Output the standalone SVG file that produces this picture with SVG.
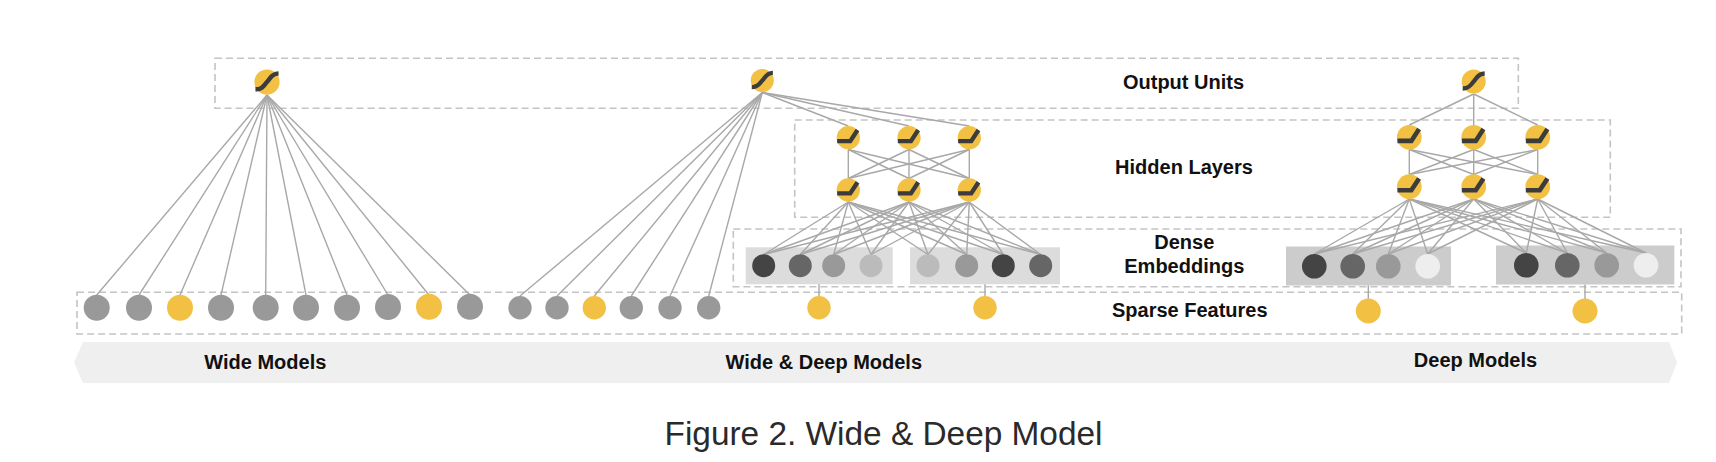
<svg xmlns="http://www.w3.org/2000/svg" xmlns:xlink="http://www.w3.org/1999/xlink" width="1716" height="462" viewBox="0 0 1716 462">
<style>
.box{fill:none;stroke:#c4c4c4;stroke-width:1.6;stroke-dasharray:7 4}
.cn line{stroke:#a8a8a8;stroke-width:1.4}
.lbl{font-family:"Liberation Sans",Arial,sans-serif;font-weight:bold;font-size:20px;fill:#111;text-anchor:middle}
.cap{font-family:"Liberation Sans",Arial,sans-serif;font-size:33.4px;fill:#2a2a2a;text-anchor:middle}
.y{fill:#f2c043}
.g{fill:#999}
.e1{fill:#444}.e2{fill:#666}.e3{fill:#999}.e4{fill:#bbb}.e5{fill:#eee}
</style>
<defs>
<g id="sig"><circle r="12" fill="#f2c043"/><path d="M-11,7 C-4,7 -3,3 0,0 C3,-3 4,-8 11,-8" fill="none" stroke="#3c3c3c" stroke-width="4.3"/></g>
<g id="relu"><circle r="12" fill="#f2c043"/><path d="M-11.5,3.5 H2 L9.5,-8" fill="none" stroke="#3c3c3c" stroke-width="4.5"/></g>
</defs>
<rect width="1716" height="462" fill="#fff"/>
<g id="band">
<polygon points="74,362.5 83,342 1669,342 1677,362.5 1669,383 83,383" fill="#efefef"/>
</g>
<g id="layers">
<rect id="box-output" class="box" x="215" y="58.3" width="1303.3" height="50"/>
<rect id="box-hidden" class="box" x="794.7" y="120" width="815.6" height="97.3"/>
<rect id="box-dense" class="box" x="733.3" y="229" width="947.7" height="57.7"/>
<rect id="box-sparse" class="box" x="77" y="292.3" width="1604.7" height="41.7"/>
</g>
<g id="emb-rects">
<rect x="745.7" y="247.3" width="147" height="37" fill="#dcdcdc"/>
<rect x="910" y="247.3" width="150" height="37" fill="#dcdcdc"/>
<rect x="1286" y="246.5" width="165" height="39" fill="#cccccc"/>
<rect x="1496" y="245.5" width="178.3" height="39" fill="#cccccc"/>
</g>
<g id="connectors" class="cn">
<line x1="267" y1="95" x2="96.7" y2="295"/>
<line x1="267" y1="95" x2="139" y2="295"/>
<line x1="267" y1="95" x2="180" y2="295"/>
<line x1="267" y1="95" x2="221" y2="295"/>
<line x1="267" y1="95" x2="265.7" y2="295"/>
<line x1="267" y1="95" x2="306" y2="295"/>
<line x1="267" y1="95" x2="347" y2="295"/>
<line x1="267" y1="95" x2="388" y2="295"/>
<line x1="267" y1="95" x2="429" y2="295"/>
<line x1="267" y1="95" x2="470" y2="295"/>
<line x1="762.3" y1="92.5" x2="520" y2="296"/>
<line x1="762.3" y1="92.5" x2="557" y2="296"/>
<line x1="762.3" y1="92.5" x2="594.3" y2="296"/>
<line x1="762.3" y1="92.5" x2="631.3" y2="296"/>
<line x1="762.3" y1="92.5" x2="670" y2="296"/>
<line x1="762.3" y1="92.5" x2="708.7" y2="296"/>
<line x1="762.3" y1="92.5" x2="848.3" y2="126"/>
<line x1="762.3" y1="92.5" x2="909" y2="126"/>
<line x1="762.3" y1="92.5" x2="969.3" y2="126"/>
<line x1="848.3" y1="149.5" x2="848.3" y2="178.5"/>
<line x1="848.3" y1="149.5" x2="909" y2="178.5"/>
<line x1="848.3" y1="149.5" x2="969.3" y2="178.5"/>
<line x1="909" y1="149.5" x2="848.3" y2="178.5"/>
<line x1="909" y1="149.5" x2="909" y2="178.5"/>
<line x1="909" y1="149.5" x2="969.3" y2="178.5"/>
<line x1="969.3" y1="149.5" x2="848.3" y2="178.5"/>
<line x1="969.3" y1="149.5" x2="909" y2="178.5"/>
<line x1="969.3" y1="149.5" x2="969.3" y2="178.5"/>
<line x1="848.3" y1="202" x2="763.7" y2="254.5"/>
<line x1="848.3" y1="202" x2="800.3" y2="254.5"/>
<line x1="848.3" y1="202" x2="833.7" y2="254.5"/>
<line x1="848.3" y1="202" x2="871" y2="254.5"/>
<line x1="848.3" y1="202" x2="928" y2="254.5"/>
<line x1="848.3" y1="202" x2="966.7" y2="254.5"/>
<line x1="848.3" y1="202" x2="1003.3" y2="254.5"/>
<line x1="848.3" y1="202" x2="1040.7" y2="254.5"/>
<line x1="909" y1="202" x2="763.7" y2="254.5"/>
<line x1="909" y1="202" x2="800.3" y2="254.5"/>
<line x1="909" y1="202" x2="833.7" y2="254.5"/>
<line x1="909" y1="202" x2="871" y2="254.5"/>
<line x1="909" y1="202" x2="928" y2="254.5"/>
<line x1="909" y1="202" x2="966.7" y2="254.5"/>
<line x1="909" y1="202" x2="1003.3" y2="254.5"/>
<line x1="909" y1="202" x2="1040.7" y2="254.5"/>
<line x1="969.3" y1="202" x2="763.7" y2="254.5"/>
<line x1="969.3" y1="202" x2="800.3" y2="254.5"/>
<line x1="969.3" y1="202" x2="833.7" y2="254.5"/>
<line x1="969.3" y1="202" x2="871" y2="254.5"/>
<line x1="969.3" y1="202" x2="928" y2="254.5"/>
<line x1="969.3" y1="202" x2="966.7" y2="254.5"/>
<line x1="969.3" y1="202" x2="1003.3" y2="254.5"/>
<line x1="969.3" y1="202" x2="1040.7" y2="254.5"/>
<line x1="819" y1="284.3" x2="819" y2="296"/>
<line x1="985" y1="284.3" x2="985" y2="296"/>
<line x1="1473.7" y1="94" x2="1409.3" y2="125"/>
<line x1="1473.7" y1="94" x2="1473.7" y2="125"/>
<line x1="1473.7" y1="94" x2="1537.7" y2="125"/>
<line x1="1409.3" y1="149.5" x2="1409.3" y2="174.5"/>
<line x1="1409.3" y1="149.5" x2="1473.7" y2="174.5"/>
<line x1="1409.3" y1="149.5" x2="1537.7" y2="174.5"/>
<line x1="1473.7" y1="149.5" x2="1409.3" y2="174.5"/>
<line x1="1473.7" y1="149.5" x2="1473.7" y2="174.5"/>
<line x1="1473.7" y1="149.5" x2="1537.7" y2="174.5"/>
<line x1="1537.7" y1="149.5" x2="1409.3" y2="174.5"/>
<line x1="1537.7" y1="149.5" x2="1473.7" y2="174.5"/>
<line x1="1537.7" y1="149.5" x2="1537.7" y2="174.5"/>
<line x1="1409.3" y1="199" x2="1314.3" y2="254"/>
<line x1="1409.3" y1="199" x2="1352.7" y2="254"/>
<line x1="1409.3" y1="199" x2="1388.3" y2="254"/>
<line x1="1409.3" y1="199" x2="1427.7" y2="254"/>
<line x1="1409.3" y1="199" x2="1526.3" y2="253"/>
<line x1="1409.3" y1="199" x2="1567.3" y2="253"/>
<line x1="1409.3" y1="199" x2="1606.7" y2="253"/>
<line x1="1409.3" y1="199" x2="1646" y2="253"/>
<line x1="1473.7" y1="199" x2="1314.3" y2="254"/>
<line x1="1473.7" y1="199" x2="1352.7" y2="254"/>
<line x1="1473.7" y1="199" x2="1388.3" y2="254"/>
<line x1="1473.7" y1="199" x2="1427.7" y2="254"/>
<line x1="1473.7" y1="199" x2="1526.3" y2="253"/>
<line x1="1473.7" y1="199" x2="1567.3" y2="253"/>
<line x1="1473.7" y1="199" x2="1606.7" y2="253"/>
<line x1="1473.7" y1="199" x2="1646" y2="253"/>
<line x1="1537.7" y1="199" x2="1314.3" y2="254"/>
<line x1="1537.7" y1="199" x2="1352.7" y2="254"/>
<line x1="1537.7" y1="199" x2="1388.3" y2="254"/>
<line x1="1537.7" y1="199" x2="1427.7" y2="254"/>
<line x1="1537.7" y1="199" x2="1526.3" y2="253"/>
<line x1="1537.7" y1="199" x2="1567.3" y2="253"/>
<line x1="1537.7" y1="199" x2="1606.7" y2="253"/>
<line x1="1537.7" y1="199" x2="1646" y2="253"/>
<line x1="1368.3" y1="285.5" x2="1368.3" y2="299"/>
<line x1="1585" y1="284.5" x2="1585" y2="299"/>
</g>
<g id="wide-output"><use xlink:href="#sig" href="#sig" transform="translate(267,82) scale(1.05)"/></g>
<g id="wide-sparse">
<circle class="g" cx="96.7" cy="307.7" r="13"/>
<circle class="g" cx="139" cy="307.7" r="13"/>
<circle class="y" cx="180" cy="307.7" r="13"/>
<circle class="g" cx="221" cy="307.7" r="13"/>
<circle class="g" cx="265.7" cy="307.7" r="13"/>
<circle class="g" cx="306" cy="307.7" r="13"/>
<circle class="g" cx="347" cy="307.7" r="13"/>
<circle class="g" cx="388" cy="307" r="13"/>
<circle class="y" cx="429" cy="306.7" r="13"/>
<circle class="g" cx="470" cy="306.7" r="13"/>
</g>
<g id="wd-output"><use xlink:href="#sig" href="#sig" transform="translate(762.3,80.5) scale(0.96)"/></g>
<g id="wd-hidden">
<use xlink:href="#relu" href="#relu" transform="translate(848.3,137.7) scale(0.97)"/>
<use xlink:href="#relu" href="#relu" transform="translate(909,137.7) scale(0.97)"/>
<use xlink:href="#relu" href="#relu" transform="translate(969.3,137.7) scale(0.97)"/>
<use xlink:href="#relu" href="#relu" transform="translate(848.3,190) scale(0.97)"/>
<use xlink:href="#relu" href="#relu" transform="translate(909,190) scale(0.97)"/>
<use xlink:href="#relu" href="#relu" transform="translate(969.3,190) scale(0.97)"/>
</g>
<g id="wd-embeddings">
<circle class="e1" cx="763.7" cy="265.7" r="11.5"/>
<circle class="e2" cx="800.3" cy="265.7" r="11.5"/>
<circle class="e3" cx="833.7" cy="265.7" r="11.5"/>
<circle class="e4" cx="871" cy="265.7" r="11.5"/>
<circle class="e4" cx="928" cy="265.7" r="11.5"/>
<circle class="e3" cx="966.7" cy="265.7" r="11.5"/>
<circle class="e1" cx="1003.3" cy="265.7" r="11.5"/>
<circle class="e2" cx="1040.7" cy="265.7" r="11.5"/>
</g>
<g id="wd-sparse">
<circle class="g" cx="520" cy="307.7" r="11.7"/>
<circle class="g" cx="557" cy="307.7" r="11.7"/>
<circle class="y" cx="594.3" cy="307.7" r="11.7"/>
<circle class="g" cx="631.3" cy="307.7" r="11.7"/>
<circle class="g" cx="670" cy="307.7" r="11.7"/>
<circle class="g" cx="708.7" cy="307.7" r="11.7"/>
<circle class="y" cx="819" cy="307.7" r="11.7"/>
<circle class="y" cx="985" cy="307.7" r="11.7"/>
</g>
<g id="deep-output"><use xlink:href="#sig" href="#sig" transform="translate(1473.7,81.5)"/></g>
<g id="deep-hidden">
<use xlink:href="#relu" href="#relu" transform="translate(1409.3,137.3) scale(1.03)"/>
<use xlink:href="#relu" href="#relu" transform="translate(1473.7,137.3) scale(1.03)"/>
<use xlink:href="#relu" href="#relu" transform="translate(1537.7,137.3) scale(1.03)"/>
<use xlink:href="#relu" href="#relu" transform="translate(1409.3,186.7) scale(1.03)"/>
<use xlink:href="#relu" href="#relu" transform="translate(1473.7,186.7) scale(1.03)"/>
<use xlink:href="#relu" href="#relu" transform="translate(1537.7,186.7) scale(1.03)"/>
</g>
<g id="deep-embeddings">
<circle class="e1" cx="1314.3" cy="266.3" r="12.3"/>
<circle class="e2" cx="1352.7" cy="266.3" r="12.3"/>
<circle class="e3" cx="1388.3" cy="266.3" r="12.3"/>
<circle class="e5" cx="1427.7" cy="266.3" r="12.3"/>
<circle class="e1" cx="1526.3" cy="265.3" r="12.3"/>
<circle class="e2" cx="1567.3" cy="265.3" r="12.3"/>
<circle class="e3" cx="1606.7" cy="265.3" r="12.3"/>
<circle class="e5" cx="1646" cy="265.3" r="12.3"/>
</g>
<g id="deep-sparse">
<circle class="y" cx="1368.3" cy="311" r="12.5"/>
<circle class="y" cx="1585" cy="311" r="12.5"/>
</g>
<g id="labels">
<text class="lbl" x="1183.5" y="89">Output Units</text>
<text class="lbl" x="1184" y="174">Hidden Layers</text>
<text class="lbl" x="1184.3" y="249">Dense</text>
<text class="lbl" x="1184.3" y="273">Embeddings</text>
<text class="lbl" x="1189.8" y="316.5">Sparse Features</text>
<text class="lbl" x="265.3" y="369">Wide Models</text>
<text class="lbl" x="823.8" y="369">Wide &amp; Deep Models</text>
<text class="lbl" x="1475.5" y="366.5">Deep Models</text>
</g>
<text class="cap" x="883.5" y="445">Figure 2. Wide &amp; Deep Model</text>
</svg>
